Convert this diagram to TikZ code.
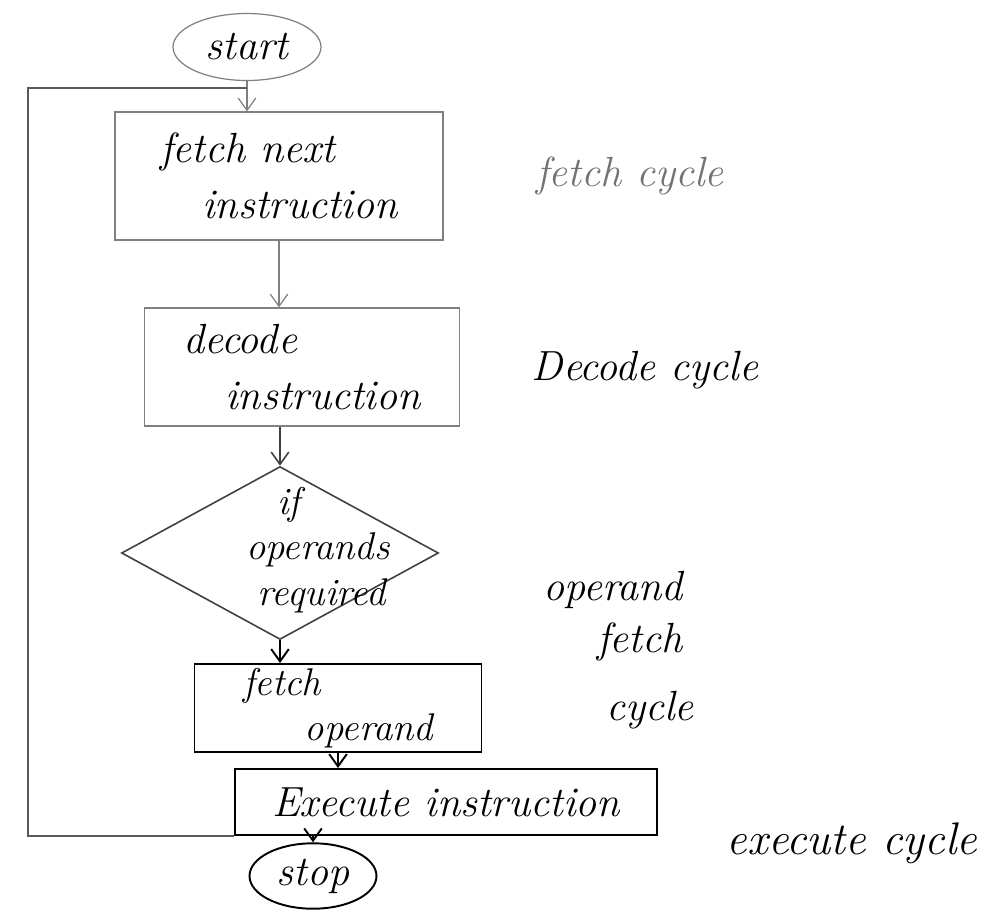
\documentclass[tikz,border=0pt]{standalone}
\usetikzlibrary{shapes.geometric,arrows.meta}

\begin{document}
\begin{tikzpicture}[x=0.02cm, y=-0.02cm,
    pencil/.style={draw=black!50, line width=0.7pt},
    ink/.style={draw=black, line width=1.1pt},
    hand/.style={font=\itshape\fontsize{24}{32}\selectfont},
    smallhand/.style={font=\itshape\fontsize{22}{26}\selectfont},
    flow/.style={-{Straight Barb[length=7pt,width=10pt]}},
    box/.style={rectangle, align=left, inner sep=2pt}]
    \useasboundingbox (0,0) rectangle (998,910);
    % flow chart
    \node[pencil, ellipse, hand, minimum width=2.96cm, minimum height=1.34cm] (start) at (247,47) {start};
    \node[pencil, box, hand, minimum width=6.56cm, minimum height=2.56cm] (fetch) at (279,176) {fetch next\\\hspace*{1em}instruction};
    \node[pencil, box, hand, minimum width=6.3cm, minimum height=2.36cm] (decode) at (302,367) {decode\\\hspace*{1em}instruction};
    \node[draw=black!75, line width=0.9pt, diamond, minimum width=6.34cm, minimum height=3.46cm, inner sep=0pt] (check) at (280,553) {};
    \node[smallhand, align=left] (checktext) at (318,550) {\hspace*{0.8em}if\\operands\\\hspace*{0.3em}required};
    \node[ink, box, smallhand, minimum width=5.74cm, minimum height=1.76cm] (operand) at (338,708) {fetch\\\hspace*{1.6em}operand};
    \node[ink, box, hand, minimum width=8.46cm, minimum height=1.32cm] (execute) at (446,802) {Execute instruction};
    \node[ink, ellipse, hand, minimum width=2.54cm, minimum height=1.28cm] (stop) at (313,876) {stop};
    % cycle names
    \node[hand, text=black!55] (fetchcycle) at (630,176) {fetch cycle};
    \node[hand] (decodecycle) at (645,370) {Decode cycle};
    \node[hand] (opcycle1) at (613,590) {operand};
    \node[hand] (opcycle2) at (640,642) {fetch};
    \node[hand] (opcycle3) at (650,710) {cycle};
    \node[hand, font=\itshape\fontsize{26}{32}\selectfont] (executecycle) at (852,843) {execute cycle};
    % connectors
    \coordinate (join) at (247,88);
    \coordinate (corner) at (28,88);
    \draw[pencil] (start.south) -- (join);
    \draw[pencil, flow] (join) -- (join |- fetch.north);
    \draw[pencil, flow] (fetch.south) -- (fetch.south |- decode.north);
    \draw[draw=black!75, line width=0.9pt, flow] (check.north |- decode.south) -- (check.north);
    \draw[ink, flow] (check.south) -- (check.south |- operand.north);
    \draw[ink, flow] (operand.south) -- (operand.south |- execute.north);
    \draw[ink, flow] (stop.north |- execute.south) -- (stop.north);
    \draw[draw=black!65, line width=0.9pt] (execute.south west) -| (corner) -- (join);
\end{tikzpicture}
\end{document}
